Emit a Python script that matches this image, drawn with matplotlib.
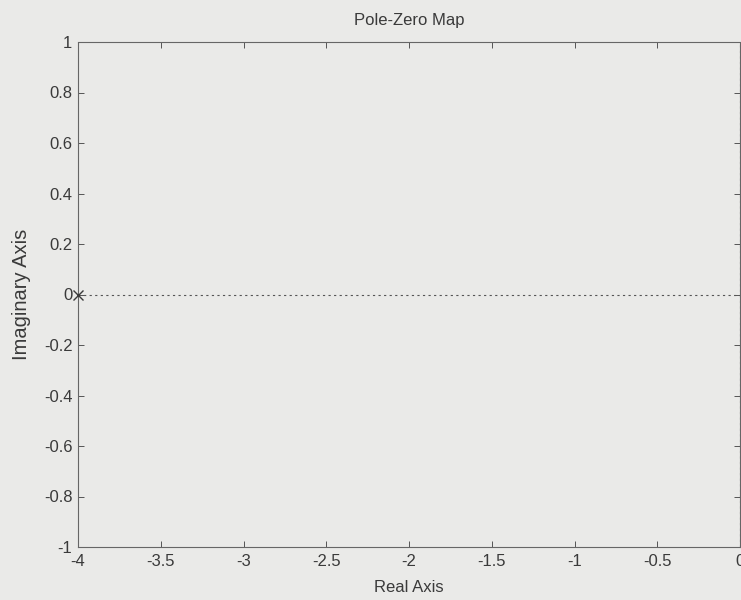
import matplotlib.pyplot as plt

# pole / zero locations
pole_re = [-4.0]
pole_im = [0.0]

xticks = [-4, -3.5, -3, -2.5, -2, -1.5, -1, -0.5, 0]
yticks = [-1, -0.8, -0.6, -0.4, -0.2, 0, 0.2, 0.4, 0.6, 0.8, 1]

plt.rcParams["font.family"] = ["Liberation Sans", "DejaVu Sans"]
ink = "#3a3a3a"
bg = "#eaeae8"

fig = plt.figure(figsize=(7.41, 6.0), dpi=100, facecolor=bg)
ax = fig.add_axes([78 / 741, 1 - 547 / 600, (740 - 78) / 741, (547 - 42) / 600])
ax.set_facecolor(bg)

ax.axhline(0, color="#555555", linestyle=(0, (2, 3)), linewidth=0.8, zorder=1)
ax.axvline(0, color="#555555", linestyle=(0, (2, 3)), linewidth=0.8, zorder=1)
ax.plot(pole_re, pole_im, "x", color=ink, markersize=7, markeredgewidth=1.0,
        clip_on=False, zorder=3)

ax.set_xlim(-4, 0)
ax.set_ylim(-1, 1)
ax.set_xticks(xticks)
ax.set_xticklabels([f"{t:g}" for t in xticks])
ax.set_yticks(yticks)
ax.set_yticklabels([f"{t:g}" for t in yticks])

ax.tick_params(direction="in", length=4, width=0.7, colors="#555555",
               labelcolor=ink, labelsize=12, top=True, right=True)
ax.tick_params(axis="x", pad=5)
ax.tick_params(axis="y", pad=4)
for s in ax.spines.values():
    s.set_color("#666666")
    s.set_linewidth(0.8)
    s.set_linestyle((0, (4, 1)))

ax.set_title("Pole-Zero Map", fontsize=12, color=ink, pad=12)
ax.set_xlabel("Real Axis", fontsize=12, color=ink, labelpad=8)
ax.set_ylabel("Imaginary Axis", fontsize=14.5, color=ink, labelpad=9)

fig.savefig("out.png", dpi=100, facecolor=bg)
